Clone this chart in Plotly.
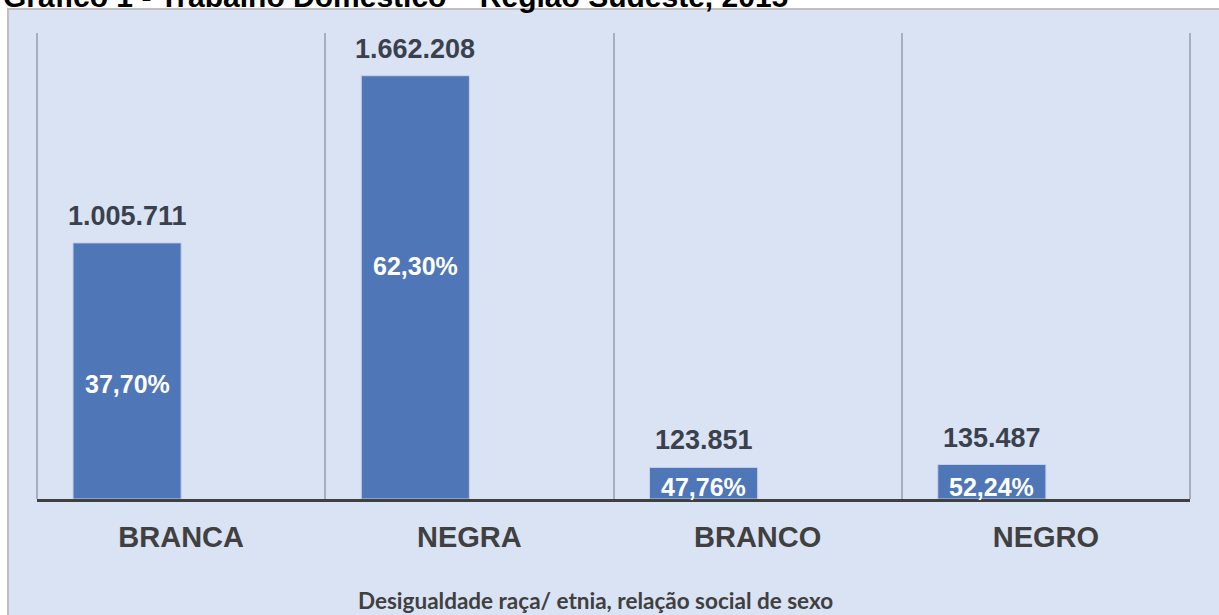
import plotly.graph_objects as go

# Trabalho doméstico na Região Sudeste por raça/etnia e sexo
categorias = ["BRANCA", "NEGRA", "BRANCO", "NEGRO"]
trabalhadores = [1005711, 1662208, 123851, 135487]
rotulos_valor = ["1.005.711", "1.662.208", "123.851", "135.487"]
percentuais = ["37,70%", "62,30%", "47,76%", "52,24%"]

titulo = "Gráfico 1 - Trabalho Doméstico – Região Sudeste, 2015"
titulo_eixo = "Desigualdade raça/ etnia, relação social de sexo"

# layout helpers
W, H = 1219, 615
ML, MR, MT, MB = 37, 29, 33, 116
PW, PH = W - ML - MR, H - MT - MB
BAR_W = 0.375
BAR_OFF = -0.375
GRID = "#a9aebb"
pct_frac = [0.45, 0.55, 0.38, 0.35]   # vertical spot of the share label inside each bar


def px_to_paper_x(px):
    return (px - ML) / PW


def px_to_paper_y(py):
    return (H - MB - py) / PH


fig = go.Figure()
fig.add_trace(go.Bar(
    x=categorias,
    y=trabalhadores,
    width=BAR_W,
    offset=BAR_OFF,
    marker=dict(color="#4f76b7", line=dict(color="#c3d0e8", width=1)),
    hoverinfo="skip",
))

annotations = []
for i, (v, lab, pct, f) in enumerate(zip(trabalhadores, rotulos_valor, percentuais, pct_frac)):
    xc = i + BAR_OFF + BAR_W / 2
    annotations.append(dict(
        x=xc, y=v, xref="x", yref="y", text=lab, showarrow=False,
        yanchor="middle", yshift=27,
        font=dict(family="Liberation Sans, Arial", size=27, color="#3a414d", weight="bold"),
    ))
    annotations.append(dict(
        x=xc, y=v * f, xref="x", yref="y", text=pct, showarrow=False,
        yanchor="middle",
        font=dict(family="Liberation Sans, Arial", size=25, color="#ffffff", weight="bold"),
    ))

annotations.append(dict(
    x=px_to_paper_x(595), y=px_to_paper_y(600), xref="paper", yref="paper",
    text=titulo_eixo, showarrow=False, xanchor="center", yanchor="middle",
    font=dict(family="Lato, Noto Sans", size=22.5, color="#404040", weight="bold"),
))
annotations.append(dict(
    x=px_to_paper_x(1), y=px_to_paper_y(15), xref="paper", yref="paper",
    text=titulo, showarrow=False, xanchor="left", yanchor="bottom",
    font=dict(family="Liberation Sans, Arial", size=30, color="#000000", weight="bold"),
))

shapes = [dict(
    type="rect", xref="paper", yref="paper", layer="below",
    x0=px_to_paper_x(8), x1=px_to_paper_x(W + 5),
    y0=px_to_paper_y(H + 5), y1=px_to_paper_y(9),
    fillcolor="#dae3f3", line=dict(color="#bfbfbf", width=2),
)]
# outer category boundaries at both ends of the axis
for xe in (0, 1):
    shapes.append(dict(
        type="line", xref="paper", yref="paper", layer="below",
        x0=xe, x1=xe, y0=0, y1=1, line=dict(color=GRID, width=2),
    ))

fig.update_layout(
    width=W, height=H,
    margin=dict(l=ML, r=MR, t=MT, b=MB),
    paper_bgcolor="#ffffff",
    plot_bgcolor="rgba(0,0,0,0)",
    showlegend=False,
    annotations=annotations,
    shapes=shapes,
    xaxis=dict(
        type="category",
        tickson="boundaries",
        showgrid=True, gridcolor=GRID, gridwidth=2,
        showline=True, linecolor="#404040", linewidth=3,
        ticks="", ticklabelstandoff=10,
        tickfont=dict(family="Liberation Sans, Arial", size=29, color="#404040", weight="bold"),
        range=[-0.5, 3.5],
    ),
    yaxis=dict(
        range=[0, 1830000],
        showgrid=False, zeroline=False, showticklabels=False, showline=False,
    ),
)

fig.write_html("out.html")
